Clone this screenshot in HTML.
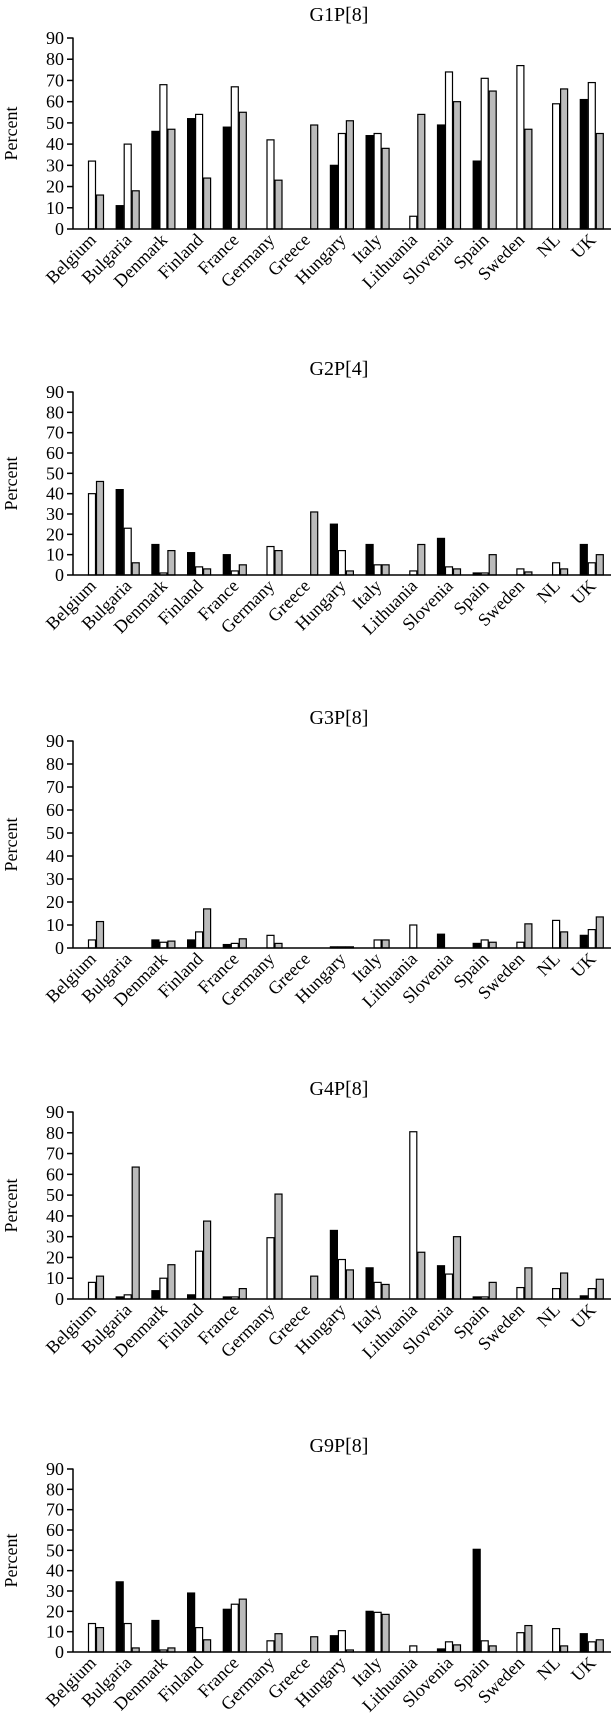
<!DOCTYPE html>
<html><head><meta charset="utf-8"><style>
html,body{margin:0;padding:0;background:#fff;}
svg{display:block;font-family:"Liberation Serif",serif;}
</style></head><body>
<svg id="chart" width="611" height="1726" viewBox="0 0 611 1726" xmlns="http://www.w3.org/2000/svg"></svg>
<script>
const categories = ["Belgium","Bulgaria","Denmark","Finland","France","Germany","Greece","Hungary","Italy","Lithuania","Slovenia","Spain","Sweden","NL","UK"];
const panelTitles = ["G1P[8]","G2P[4]","G3P[8]","G4P[8]","G9P[8]"];
const yTicks = [0,10,20,30,40,50,60,70,80,90];
const g1Black = [0,11,46,52,48,0,0,30,44,0,49,32,0,0,61];
const g1White = [32,40,68,54,67,42,0,45,45,6,74,71,77,59,69];
const g1Grey  = [16,18,47,24,55,23,49,51,38,54,60,65,47,66,45];
const g2Black = [0,42,15,11,10,0,0,25,15,0,18,1,0,0,15];
const g2White = [40,23,1,4,2,14,0,12,5,2,4,1,3,6,6];
const g2Grey  = [46,6,12,3,5,12,31,2,5,15,3,10,1.5,3,10];
const g3Black = [0,0,3.5,3.5,1.5,0,0,0.5,0,0,6,2,0,0,5.5];
const g3White = [3.5,0,2.5,7,2,5.5,0,0.5,3.5,10,0,3.5,2.5,12,8];
const g3Grey  = [11.5,0,3,17,4,2,0,0.5,3.5,0,0,2.5,10.5,7,13.5];
const g4Black = [0,1,4,2,1,0,0,33,15,0,16,1,0,0,1.5];
const g4White = [8,2,10,23,1,29.5,0,19,8,80.5,12,1,5.5,5,5];
const g4Grey  = [11,63.5,16.5,37.5,5,50.5,11,14,7,22.5,30,8,15,12.5,9.5];
const g9Black = [0,34.5,15.5,29,21,0,0,8,20,0,1.5,50.5,0,0,9];
const g9White = [14,14,1,12,23.5,5.5,0,10.5,19.5,3,5,5.5,9.5,11.5,5];
const g9Grey  = [12,2,2,6,26,9,7.5,1,18.5,0,3.5,3,13,3,6];

const panels = [[g1Black,g1White,g1Grey],[g2Black,g2White,g2Grey],[g3Black,g3White,g3Grey],[g4Black,g4White,g4Grey],[g9Black,g9White,g9Grey]];
const fills = ["#000","#fff","#bbb"];
const seriesNames = ["black","white","grey"];
const NS = "http://www.w3.org/2000/svg";
const svg = document.getElementById("chart");
const axisX = 73, firstBar = 80, stride = 35.7, barW = 8, yMax = 90;
const panelBase = [229, 575, 948, 1299, 1652];
const panelTop = [38, 392, 741, 1112, 1469];
function mk(tag, attrs, parent){const e=document.createElementNS(NS,tag);for(const k in attrs)e.setAttribute(k,attrs[k]);parent.appendChild(e);return e;}
panels.forEach((series,p)=>{
  const base = panelBase[p];
  const plotH = base - panelTop[p];
  const yS = v => base - v/yMax*plotH;
  const xS = (i,s) => firstBar + i*stride + s*barW;
  const g = mk("g",{},svg);
  
  
  const t = mk("text",{x:339,y:panelTop[p]-17,"font-size":20,"text-anchor":"middle"},g);
  t.textContent = panelTitles[p];
  
  
  const yl = mk("text",{x:0,y:0,"font-size":18,"text-anchor":"middle",transform:`translate(17,${base-plotH/2}) rotate(-90)`},g);
  yl.textContent = "Percent";
  
  
  series.forEach((vals,s)=>{
    vals.forEach((v,i)=>{
      if(v<=0) return;
      const r = mk("rect",{x:xS(i,s)+0.5,y:yS(v),width:barW-1,height:base-yS(v),fill:fills[s],stroke:"#000","stroke-width":1.2},g);
      
      
    });
  });
  const ya = mk("line",{x1:axisX,y1:yS(90)-0.5,x2:axisX,y2:base,stroke:"#000","stroke-width":1.5},g);
  
  
  const xa = mk("line",{x1:axisX,y1:base,x2:611,y2:base,stroke:"#000","stroke-width":1.5},g);
  
  
  yTicks.forEach(v=>{
    mk("line",{x1:axisX-6,y1:yS(v),x2:axisX,y2:yS(v),stroke:"#000","stroke-width":1.5},g);
    const tl = mk("text",{x:axisX-9,y:yS(v)+6,"font-size":18,"text-anchor":"end"},g);
    tl.textContent = v;
    
    
  });
  categories.forEach((c,i)=>{
    const cx = firstBar + i*stride + 1.5*barW + 5;
    const cl = mk("text",{x:0,y:0,"font-size":18,"text-anchor":"end",transform:`translate(${cx},${base+12}) rotate(-45)`},g);
    cl.textContent = c;
    
    
  });
});
</script>
</body></html>
